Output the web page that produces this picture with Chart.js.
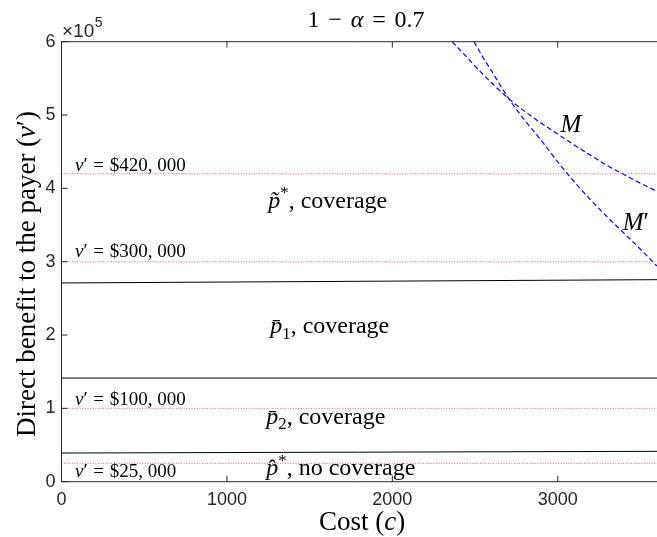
<!DOCTYPE html>
<html>
<head>
<meta charset="utf-8">
<script src="https://cdn.jsdelivr.net/npm/chart.js@4.4.0/dist/chart.umd.min.js"></script>
<style>
body { margin: 0; background: #fff; }
canvas { display: block; }
</style>
</head>
<body>
<canvas id="chart" width="657" height="537"></canvas>
<script>
// values
const xTicks = [0, 1000, 2000, 3000];
const yTicks = [0, 1, 2, 3, 4, 5, 6]; // x10^5
const lineCost = [0, 3600];
const boundUpper = [271000, 275500];
const boundMid = [141300, 141300];
const boundLower = [39100, 41400];
const vPrime = [420000, 300000, 100000, 25000];

const mCost = [2362, 2450, 2550, 2705, 2800, 2900, 3000, 3100, 3200, 3300, 3400, 3500, 3600];
const mValue = [600000, 579000, 555000, 522000, 505000, 489000, 474000, 459000, 445000, 431000, 419000, 407000, 396000];
const mpCost = [2493, 2550, 2600, 2705, 2800, 2900, 3000, 3100, 3200, 3300, 3400, 3500, 3600];
const mpValue = [600000, 578000, 560000, 522000, 493000, 465500, 436000, 409000, 384000, 361000, 339000, 317000, 294000];

// texts inside the axes (x = cost, y = baseline value); numbers are gaps in em
const notes = [
    {x: 82, y: 423300, size: 19, parts: [['v', 'i'], ['\u2032', ''], 0.3, ['=', ''], 0.3, ['$420, 000', '']]},
    {x: 82, y: 306500, size: 19, parts: [['v', 'i'], ['\u2032', ''], 0.3, ['=', ''], 0.3, ['$300, 000', '']]},
    {x: 82, y: 104500, size: 19, parts: [['v', 'i'], ['\u2032', ''], 0.3, ['=', ''], 0.3, ['$100, 000', '']]},
    {x: 82, y: 6000, size: 19, parts: [['v', 'i'], ['\u2032', ''], 0.3, ['=', ''], 0.3, ['$25, 000', '']]},
    {x: 1250, y: 373800, size: 24, parts: [['p\u0303', 'i'], ['*', 'p'], [', coverage', '']]},
    {x: 1262, y: 202200, size: 24, parts: [['p\u0304', 'i'], ['1', 'b'], [', coverage', '']]},
    {x: 1238, y: 78600, size: 24, parts: [['p\u0304', 'i'], ['2', 'b'], [', coverage', '']]},
    {x: 1238, y: 9100, size: 24, parts: [['p\u0302', 'i'], ['*', 'p'], [', no coverage', '']]},
    {x: 3017, y: 476800, size: 25, parts: [['M', 'i']]},
    {x: 3393, y: 343900, size: 25, parts: [['M', 'i'], ['\u2032', '']]}
];

function drawRich(ctx, parts, x, y, size, align) {
    const fontOf = (st, sz) => (st.includes('i') ? 'italic ' : '') + sz + 'px "Liberation Serif"';
    const items = parts.map(p => {
        if (typeof p === 'number') return {gap: true, w: p * size};
        const [t, st] = p;
        const small = st.includes('b') || st.includes('p');
        const sz = small ? size * 0.7 : size;
        ctx.font = fontOf(st, sz);
        let dy = 0;
        if (st.includes('b')) dy = size * 0.22;
        if (st.includes('p')) dy = -size * 0.38;
        return {t, st, sz, dy, w: ctx.measureText(t).width};
    });
    const total = items.reduce((a, b) => a + b.w, 0);
    let cx = align === 'center' ? x - total / 2 : x;
    ctx.textAlign = 'left';
    ctx.textBaseline = 'alphabetic';
    items.forEach(it => {
        if (!it.gap) {
            ctx.font = fontOf(it.st, it.sz);
            ctx.fillText(it.t, cx, y + it.dy);
        }
        cx += it.w;
    });
}

const pairs = (xs, ys) => xs.map((x, i) => ({x: x, y: ys[i]}));

const datasets = [];
vPrime.forEach(v => {
    datasets.push({data: pairs(lineCost, [v, v]), borderColor: '#ff6060', borderWidth: 1, borderDash: [1, 1.6]});
});
[boundUpper, boundMid, boundLower].forEach(b => {
    datasets.push({data: pairs(lineCost, b), borderColor: '#000000', borderWidth: 1});
});
datasets.push({data: pairs(mCost, mValue), borderColor: '#0000ff', borderWidth: 1.2, borderDash: [5, 3], cubicInterpolationMode: 'monotone'});
datasets.push({data: pairs(mpCost, mpValue), borderColor: '#0000ff', borderWidth: 1.2, borderDash: [5, 3], cubicInterpolationMode: 'monotone'});

// axes box, inward ticks and all the LaTeX-like texts
const decorations = {
    id: 'decorations',
    afterDraw(chart) {
        const ctx = chart.ctx;
        const a = chart.chartArea;
        const xs = chart.scales.x, ys = chart.scales.y;
        ctx.save();
        ctx.strokeStyle = '#262626';
        ctx.lineWidth = 1;
        ctx.beginPath();
        ctx.moveTo(a.left, a.top); ctx.lineTo(a.right, a.top);
        ctx.moveTo(a.left, a.top); ctx.lineTo(a.left, a.bottom);
        ctx.moveTo(a.left, a.bottom); ctx.lineTo(a.right, a.bottom);
        xTicks.forEach(t => {
            const px = xs.getPixelForValue(t);
            ctx.moveTo(px, a.bottom); ctx.lineTo(px, a.bottom - 6);
            ctx.moveTo(px, a.top); ctx.lineTo(px, a.top + 6);
        });
        yTicks.forEach(t => {
            const py = ys.getPixelForValue(t * 1e5);
            ctx.moveTo(a.left, py); ctx.lineTo(a.left + 6, py);
        });
        ctx.stroke();

        ctx.fillStyle = '#000000';
        notes.forEach(n => {
            drawRich(ctx, n.parts, xs.getPixelForValue(n.x), ys.getPixelForValue(n.y), n.size, 'left');
        });

        // title
        drawRich(ctx, [['1', ''], 0.37, ['\u2212', ''], 0.37, ['\u03b1', 'i'], 0.37, ['=', ''], 0.37, ['0.7', '']], 366, 27, 24, 'center');
        // x label
        drawRich(ctx, [['Cost (', ''], ['c', 'i'], [')', '']], 362, 530, 27, 'center');
        // y label
        ctx.save();
        ctx.translate(35, 274);
        ctx.rotate(-Math.PI / 2);
        drawRich(ctx, [['Direct benefit to the payer (', ''], ['v', 'i'], ['\u2032', ''], [')', '']], 0, 0, 27, 'center');
        ctx.restore();
        // exponent
        ctx.fillStyle = '#262626';
        ctx.textAlign = 'left';
        ctx.textBaseline = 'alphabetic';
        ctx.font = '19px "Liberation Sans"';
        ctx.fillText('\u00d710', 62, 37);
        const w = ctx.measureText('\u00d710').width;
        ctx.font = '14px "Liberation Sans"';
        ctx.fillText('5', 62 + w + 0.5, 27);
        ctx.restore();
    }
};

new Chart(document.getElementById('chart'), {
    type: 'scatter',
    data: {datasets: datasets},
    options: {
        responsive: false,
        devicePixelRatio: 1,
        animation: false,
        events: [],
        showLine: true,
        elements: {point: {radius: 0}},
        layout: {padding: {top: 41.7, right: 0, left: 0, bottom: 0}},
        plugins: {legend: {display: false}, tooltip: {enabled: false}},
        scales: {
            x: {
                type: 'linear',
                min: 0,
                max: 3600,
                afterBuildTicks: s => { s.ticks = xTicks.map(v => ({value: v})); },
                afterFit: s => { s.height = 55.3; },
                grid: {display: false, drawTicks: false},
                border: {display: false},
                ticks: {color: '#262626', font: {family: 'Liberation Sans', size: 18}, padding: 8, maxRotation: 0, callback: v => String(v)}
            },
            y: {
                type: 'linear',
                min: 0,
                max: 600000,
                afterBuildTicks: s => { s.ticks = yTicks.map(v => ({value: v * 1e5})); },
                afterFit: s => { s.width = 61.5; },
                grid: {display: false, drawTicks: false},
                border: {display: false},
                ticks: {color: '#262626', font: {family: 'Liberation Sans', size: 18}, padding: 6, callback: v => String(v / 1e5)}
            }
        }
    },
    plugins: [decorations]
});
</script>
</body>
</html>
